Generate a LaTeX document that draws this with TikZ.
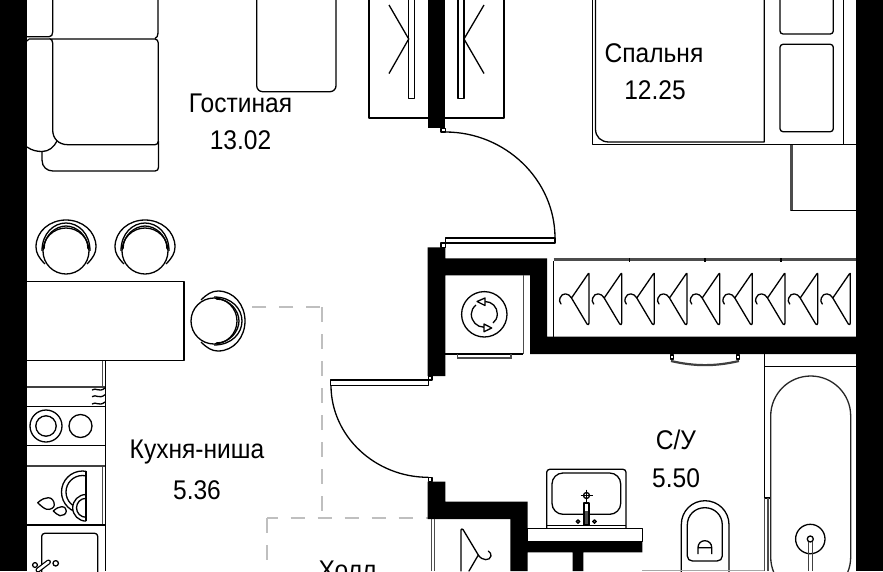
\documentclass[tikz,border=0pt]{standalone}
\usepackage{fontspec}
\setmainfont{Liberation Sans}

\tikzset{
	wall/.style={fill=black, draw=none},
	furn/.style={draw=black, line width=1.3pt, line join=round},
	furngray/.style={draw=black!70, line width=1.3pt},
	zone/.style={draw=black!25, line width=1.2pt, dash pattern=on 14.5pt off 12.5pt},
	roomlabel/.style={font=\fontsize{27}{30}\selectfont, text=black, inner sep=0pt}
}

\newcommand{\roomtext}[1]{\scalebox{.91}[1]{#1}}
\newcommand{\barstool}[3]{
	\begin{scope}[shift={(#1,#2)}, rotate=#3]
		\draw [furn, fill=white] (-21,13) .. controls (-27,7) and (-30,2) .. (-30,-4) .. controls (-30,-20) and (-16,-31) .. (0,-31) .. controls (16,-31) and (30,-20) .. (30,-4) .. controls (30,2) and (27,7) .. (21,13);
		\draw [furn] (-24,0) .. controls (-24,-18) and (-12,-28) .. (0,-28) .. controls (12,-28) and (24,-18) .. (24,0);
		\draw [furn, fill=white] (0,0) circle [radius=23];
		\draw [furn] (-22,-2) .. controls (-22,-16) and (-10,-25) .. (0,-25) .. controls (10,-25) and (22,-16) .. (22,-2);
	\end{scope}
}

\begin{document}
\begin{tikzpicture}[x=1pt, y=-1pt]
	\useasboundingbox (0,0) rectangle (883,571);
	\fill [white] (0,0) rectangle (883,571);

	% Zones
	\draw [zone, dash phase=25pt] (322,307) -- (184,307);
	\draw [zone] (322,307) -- (322,518);
	\draw [zone, dash phase=3.5pt] (267,518) -- (430,518);
	\draw [zone] (267,518) -- (267,571);

	% Sofa and bench
	\draw [furn] (27,36.7) -- (49,36.7) .. controls (51.5,36.7) and (52.7,35) .. (52.7,32) -- (52.7,0);
	\draw [furn] (158,0) -- (158,33) .. controls (158,36) and (157,37.5) .. (155,38.5);
	\draw [furn] (29,39) -- (155,39) .. controls (157,39) and (158.3,41) .. (158.3,43) -- (158.3,141) .. controls (158.3,143.5) and (157,144.7) .. (155,144.7) -- (68,144.7) .. controls (58,144.7) and (52.7,138) .. (52.7,130) -- (52.7,43) .. controls (52.7,41) and (51.5,39) .. (49.5,38.5);
	\draw [furn] (27,41) .. controls (27.5,40) and (28,39.5) .. (29,39);
	\draw [furn] (27,147) .. controls (32,150.5) and (37,151.5) .. (42,151.5) .. controls (49,151.5) and (54,147) .. (57,141);
	\draw [furn] (42,151.5) -- (42,160) .. controls (42,167) and (47,171) .. (53,171) -- (155,171) .. controls (157.5,171) and (158.5,169.5) .. (158.5,167) -- (158.5,141);
	\draw [furn, rounded corners=6pt] (256.7,-10) -- (256.7,91.7) -- (336,91.7) -- (336,-10);

	% Table and stools
	\draw [furn] (27,281.5) -- (184,281.5) -- (184,360.5) -- (27,360.5);
	\barstool{66}{251}{0}
	\barstool{145}{251}{0}
	\barstool{214}{321}{-90}

	% Kitchen
	\draw [furn] (105.3,360.5) -- (105.3,571);
	\draw [furngray] (102.5,360.5) -- (102.5,387);
	\draw [furngray] (102.5,466) -- (102.5,525);
	\draw [furn, line width=1.8pt, draw=black!75] (27,387) -- (105.3,387);
	\draw [furn] (27,406.7) -- (105.3,406.7);
	\draw [furn] (27,445.7) -- (105.3,445.7);
	\draw [furn, line width=1.8pt, draw=black!75] (27,465.7) -- (105.3,465.7);
	\draw [furn] (27,525) -- (105.3,525);
	\foreach \sy in {390,396.7,404}
		\draw [furn] (92,\sy) .. controls (96,\sy-3) and (99,\sy+3) .. (105,\sy-2);
	\draw [furn] (46,426) circle [radius=16];
	\draw [furn] (46,426) circle [radius=10.2];
	\draw [furn] (80.5,426) circle [radius=11.5];
	\begin{scope}
		\clip (55,465) rectangle (86,525);
		\draw [furn] (82.5,492) circle [radius=21];
		\draw [furn] (82.5,492) circle [radius=16.5];
		\draw [furn, fill=white] (86,507.8) circle [radius=13.3];
		\draw [furn] (86,507.8) circle [radius=9.5];
	\end{scope}
	\draw [furn] (86,471) -- (86,521);
	\draw [furn] (37.7,502.7) .. controls (42,499) and (45,497.7) .. (48.3,497.7) .. controls (52,497.7) and (54.3,501) .. (54.3,505) .. controls (54.3,508) and (50,510) .. (46.7,509.3) .. controls (44,508.5) and (41,506) .. cycle;
	\draw [furn] (53.3,511) .. controls (56,508.5) and (59,506.7) .. (61.7,506.7) .. controls (65,506.7) and (66.3,509) .. (66.3,511) .. controls (66.3,514) and (63,516) .. (60,515.7) .. controls (58,515) and (55,513) .. cycle;
	\draw [furn, rounded corners=3pt] (41.7,580) -- (41.7,533.3) -- (97.7,533.3) -- (97.7,580);
	\draw [furn] (35,565) circle [radius=2.4];
	\draw [furn, fill=white] (55.7,563.3) circle [radius=2.7];
	\draw [furn, line width=5pt, line cap=round] (38,570) -- (48.5,562);
	\draw [white, line width=2.5pt, line cap=round] (38,570) -- (48.5,562);

	% Walls
	\fill [wall] (0,0) rectangle (27,571);
	\fill [wall] (856,0) rectangle (883,571);
	\fill [wall] (427.7,0) rectangle (445.3,128.3);
	\fill [wall] (427.7,247.3) -- (445.3,247.3) -- (445.3,258.3) -- (547,258.3) -- (547,336.7) -- (856,336.7) -- (856,354) -- (530,354) -- (530,275.3) -- (445.3,275.3) -- (445.3,376) -- (427.7,376) -- cycle;
	\fill [wall] (427.7,481.7) -- (445.3,481.7) -- (445.3,501.7) -- (527.7,501.7) -- (527.7,541.7) -- (642.3,541.7) -- (642.3,552.3) -- (583.3,552.3) -- (583.3,571) -- (572.7,571) -- (572.7,552.3) -- (527.7,552.3) -- (527.7,571) -- (510.3,571) -- (510.3,519) -- (427.7,519) -- cycle;

	% Wardrobes by the wall
	\draw [furn] (369,-5) -- (369,118) -- (504,118) -- (504,-5);
	\draw [furn, fill=white] (408.7,-5) rectangle (414.7,98.7);
	\draw [furn, fill=white] (458,-5) rectangle (464,98.7);
	\draw [furn] (389,5) -- (408.7,39) -- (389,73.5);
	\draw [furn] (484,5) -- (464,39) -- (484,73.5);
	\fill [wall] (427.7,110) rectangle (445.3,128.3);

	% Doors
	\draw [furn, fill=white] (441,128.3) rectangle (445.3,132);
	\draw [furn] (445.3,132) .. controls (505.5,132) and (555,180) .. (555,238);
	\draw [furn, fill=white] (445.3,238) rectangle (555,243);
	\draw [furn, fill=white] (441,243) rectangle (445.3,247.3);
	\draw [furn, fill=white] (330.7,380) rectangle (428.3,385.3);
	\draw [furn, fill=white] (428.3,376) rectangle (432,380);
	\draw [furn] (331,385.3) .. controls (331,436) and (375,477.3) .. (428.3,477.3);
	\draw [furn, fill=white] (428.3,477.3) rectangle (432,481.7);

	% Bed and nightstand
	\draw [furn] (592.7,-5) -- (592.7,144.7) -- (856,144.7);
	\draw [furn] (595.5,-5) -- (595.5,129) .. controls (595.5,137) and (601,142) .. (609,142) -- (764.3,142) -- (764.3,-5);
	\draw [furn, rounded corners=3pt] (780,-10) -- (780,34) -- (833.3,34) -- (833.3,-10);
	\draw [furn, rounded corners=3pt] (780,44.3) rectangle (833.3,131.7);
	\draw [furn] (843.7,-5) -- (843.7,144.7);
	\draw [furn, line width=2.2pt, draw=black!70] (791.5,144.7) -- (791.5,210.7);
	\draw [furn] (791,210.7) -- (856,210.7);

	% Washer
	\draw [furn] (445.3,354) -- (523.3,354);
	\draw [furngray] (523.3,354) -- (523.3,275.3);
	\draw [furngray] (457.7,354) -- (457.7,358) -- (511,358) -- (511,354);
	\draw [furn] (484.3,314.3) circle [radius=22.7];
	\draw [furn] (485,301.5) .. controls (492,301.5) and (497.3,307) .. (497.3,314) .. controls (497.3,318) and (495.5,321) .. (493,323);
	\draw [furn] (484,327.2) .. controls (477,327.2) and (471.3,321.5) .. (471.3,314) .. controls (471.3,310.5) and (473,307.5) .. (476,305);
	\draw [furn, fill=white] (485,298) -- (485,305.5) -- (477,301.5) -- cycle;
	\draw [furn, fill=white] (484,324) -- (484,331.7) -- (491.7,328) -- cycle;

	% Closet with hangers
	\draw [furn] (553.5,337) -- (553.5,261);
	\draw [furn, line width=2.2pt, draw=black!70] (553.5,259.5) -- (856,259.5);
	\foreach \tx in {629.5,705,781}
		\draw [furn] (\tx,258) -- (\tx,261.5);
	\foreach \hx in {589,621.7,654.3,687,719.7,752.3,785,817.7,850.3}
		\draw [furn, line cap=round] (\hx-17.5,298) .. controls (\hx-20,293) and (\hx-27,292) .. (\hx-29,298) .. controls (\hx-30,300) and (\hx-29.5,302) .. (\hx-28,304)
			(\hx-17.5,298) -- (\hx-1,274) .. controls (\hx,273) and (\hx,273) .. (\hx,275) -- (\hx,323) .. controls (\hx,325) and (\hx-1,325) .. (\hx-2,324) -- (\hx-17.5,298);

	% Bathroom door trim
	\draw [furn, fill=white] (670.5,355) rectangle (673.5,359);
	\draw [furn, fill=white] (736.5,355) rectangle (739.5,359);
	\draw [furn, draw=black!75, line width=2.2pt] (671,361) .. controls (695,366.5) and (715,366.5) .. (739,361);

	% Bathroom
	\draw [furn] (764.3,354) -- (764.3,498);
	\draw [furn] (764.3,366.7) -- (856,366.7);
	\draw [furn, line width=1.8pt] (764.3,498) -- (770,498);
	\draw [furngray] (764.8,498) -- (764.8,571);
	\draw [furngray] (768,498) -- (768,571);
	\draw [furn, draw=black!85, rounded corners=40pt] (770.7,376) rectangle (850.7,597);
	\draw [furn] (810.3,539) circle [radius=14.7];
	\draw [furn, fill=white] (810.3,539) circle [radius=3];
	\draw [furn, draw=black!75] (808.3,541.5) -- (808.3,571) (812.3,541.5) -- (812.3,571);

	% Sink and counter
	\draw [furn] (527.7,528.3) rectangle (642.3,541.7);
	\draw [furn, rounded corners=3pt] (546.7,528.3) -- (546.7,469.3) -- (626,469.3) -- (626,528.3);
	\draw [furn] (546.7,525.5) -- (626,525.5);
	\draw [furn, rounded corners=11pt] (552,473) rectangle (620.7,514.3);
	\draw [furn] (586.5,495.5) circle [radius=3];
	\draw [furn] (580.5,495.5) -- (592.5,495.5) (586.5,489.5) -- (586.5,501.5);
	\draw [furn, fill=white] (584,503) rectangle (589,525);
	\fill [black!70] (585,511) rectangle (588,524);
	\draw [furn, fill=black!55] (578,521.5) circle [radius=1.8];
	\draw [furn, fill=black!55] (594.5,521.5) circle [radius=1.8];

	% Toilet
	\draw [furn] (681.3,580) -- (681.3,524.7) .. controls (681.3,511) and (692,500.7) .. (705,500.7) .. controls (718,500.7) and (729,511) .. (729,524.7) -- (729,580);
	\draw [furn] (687.3,525) .. controls (687.3,515) and (695,507.7) .. (704.8,507.7) .. controls (714.5,507.7) and (722.3,515) .. (722.3,525) -- (722.3,556) .. controls (722.3,559) and (720,561) .. (717,561) -- (692.5,561) .. controls (689.5,561) and (687.3,559) .. (687.3,556) -- cycle;
	\draw [furn] (698,554) -- (698,547.5) .. controls (698,543.5) and (701,540.7) .. (704.8,540.7) .. controls (708.7,540.7) and (711.7,543.5) .. (711.7,547.5) -- (711.7,554) (698,547.7) -- (711.7,547.7);
	\draw [furn, draw=black!35] (642.3,570.3) -- (764,570.3);

	% Hall closet
	\draw [furngray] (431.5,519) -- (431.5,571);
	\draw [furngray] (434.5,519) -- (434.5,571);
	\draw [furn, line cap=round] (461,571) -- (461,530) .. controls (461,529) and (462,528.5) .. (463,529.5) -- (478.3,555) -- (469,571)
		(478.3,555) .. controls (482,561) and (490,561) .. (491,556) .. controls (491.3,554) and (490,552) .. (488.3,551);

	% Labels
	\node [roomlabel] (livingname) at (240.5,103) {\roomtext{Гостиная}};
	\node [roomlabel] (livingarea) at (240.5,140) {\roomtext{13.02}};
	\node [roomlabel] (bedname) at (654,53) {\roomtext{Спальня}};
	\node [roomlabel] (bedarea) at (655,90.5) {\roomtext{12.25}};
	\node [roomlabel] (kitchenname) at (197,452) {\roomtext{Кухня-ниша}};
	\node [roomlabel] (kitchenarea) at (197,490.5) {\roomtext{5.36}};
	\node [roomlabel] (bathname) at (676,440) {\roomtext{С/У}};
	\node [roomlabel] (batharea) at (676,478) {\roomtext{5.50}};
	\node [roomlabel] (hallname) at (347.5,570.5) {\roomtext{Холл}};
\end{tikzpicture}
\end{document}
